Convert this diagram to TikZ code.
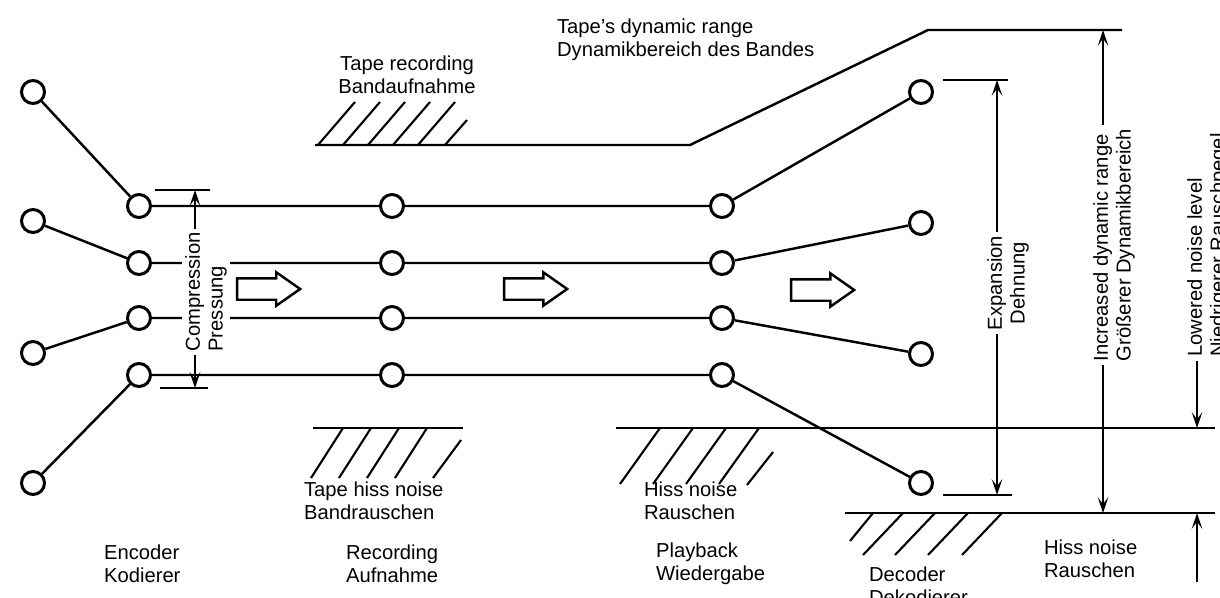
\documentclass[tikz,border=0pt]{standalone}
\usepackage{fontspec}
\setmainfont{Liberation Sans}
\usepackage{tikz}
\usetikzlibrary{arrows.meta,shapes,positioning,calc}

\begin{document}
\begin{tikzpicture}[
    x=0.02cm, y=-0.02cm,
    >={Stealth[length=9pt,width=6pt,inset=4pt]},
    every node/.style={font=\fontsize{11.5}{13}\selectfont, inner sep=1pt},
    port/.style={circle, draw, line width=1.7pt, fill=white, minimum size=0.46cm, inner sep=0pt},
    wire/.style={line width=1.4pt},
    hatch/.style={line width=1.2pt},
    dim/.style={line width=0.8pt},
    txt/.style={align=left, anchor=west},
    vtxt/.style={rotate=90, fill=white, inner sep=2pt},
    bigarrow/.style={single arrow, draw, line width=1.4pt, minimum height=1.26cm, inner xsep=0pt, inner ysep=0.19cm, single arrow head extend=0.12cm, single arrow tip angle=70}
]
    \useasboundingbox (0,0) rectangle (1220,598);

    \node[port] (in1) at (33,92) {};
    \node[port] (in2) at (33,221) {};
    \node[port] (in3) at (33,353) {};
    \node[port] (in4) at (33,483) {};
    \foreach \i/\y in {1/206,2/263,3/318,4/375} {
        \node[port] (enc\i) at (139,\y) {};
        \node[port] (rec\i) at (392,\y) {};
        \node[port] (play\i) at (722,\y) {};
    }
    \node[port] (out1) at (921,92) {};
    \node[port] (out2) at (921,223) {};
    \node[port] (out3) at (921,354) {};
    \node[port] (out4) at (921,483) {};

    \foreach \i in {1,...,4}
        \draw[wire] (in\i) -- (enc\i) (enc\i) -- (rec\i) -- (play\i) (play\i) -- (out\i);

    \node[bigarrow] (flow1) at (261,289) {};
    \node[bigarrow] (flow2) at (528,289) {};
    \node[bigarrow] (flow3) at (815,290) {};

    % tape levels
    \draw[wire] (315,145) -- (690,145) -- (928,30) -- (1122,30);
    \foreach \x in {318,343,368,393,418} \draw[hatch] (\x,145) -- ++(37,-43);
    \draw[hatch] (445,145) -- ++(22,-25);

    \draw[wire] (313,428) -- (463,428);
    \foreach \x in {343,371,399,427} \draw[hatch] (\x,428) -- ++(-32,50);
    \draw[hatch] (461,440) -- ++(-28,38);

    \draw[wire] (616,428) -- (1215,428);
    \foreach \x in {660,693,726,759} \draw[hatch] (\x,428) -- ++(-40,56);
    \draw[hatch] (773,452) -- ++(-26,33);

    \draw[wire] (845,513) -- (1215,513);
    \draw[hatch] (873,513) -- ++(-23,28);
    \foreach \x in {903,935,968,1002} \draw[hatch] (\x,513) -- ++(-40,42);

    % dimensions
    \coordinate (ctop) at (195,190);
    \coordinate (cbot) at (195,388);
    \draw[dim] (155,190) -- (210,190) (160,388) -- (208,388);
    \draw[dim,<->] (ctop) -- (cbot);
    \node[vtxt, align=left] (comp) at (206,292) {Compression\\Pressung};

    \coordinate (etop) at (997,80);
    \coordinate (ebot) at (997,495);
    \draw[dim] (943,80) -- (1008,80) (943,495) -- (1012,495);
    \draw[dim,<->] (etop) -- (ebot);
    \node[vtxt, align=center] (expa) at (1008,283) {Expansion\\Dehnung};

    \coordinate (itop) at (1103,30);
    \coordinate (ibot) at (1103,513);
    \draw[dim,<->] (itop) -- (ibot);
    \node[vtxt, align=left] (incr) at (1114,245) {Increased dynamic range\\Größerer Dynamikbereich};

    \coordinate (lowtip) at (1197,428);
    \node[vtxt, align=left] (lowlbl) at (1208,245) {Lowered noise level\\Niedrigerer Rauschpegel};
    \draw[dim,->] (lowtip |- lowlbl.west) -- (lowtip);

    \coordinate (hissbot) at (1197,582);
    \coordinate (hisstip) at (1197,513);
    \draw[dim,->] (hissbot) -- (hisstip);

    % texts
    \node[align=center] (taperec) at (407,75) {Tape recording\\Bandaufnahme};
    \node[txt] (taperange) at (555,40) {Tape's dynamic range\\Dynamikbereich des Bandes};
    \node[txt] (tapehiss) at (302,501) {Tape hiss noise\\Bandrauschen};
    \node[txt] (playhiss) at (642,501) {Hiss noise\\Rauschen};
    \node[txt] (enc) at (102,564) {Encoder\\Kodierer};
    \node[txt] (recd) at (344,564) {Recording\\Aufnahme};
    \node[txt] (play) at (654,564) {Playback\\Wiedergabe};
    \node[txt] (dec) at (867,586) {Decoder\\Dekodierer};
    \node[txt] (outhiss) at (1042,559) {Hiss noise\\Rauschen};
\end{tikzpicture}
\end{document}
